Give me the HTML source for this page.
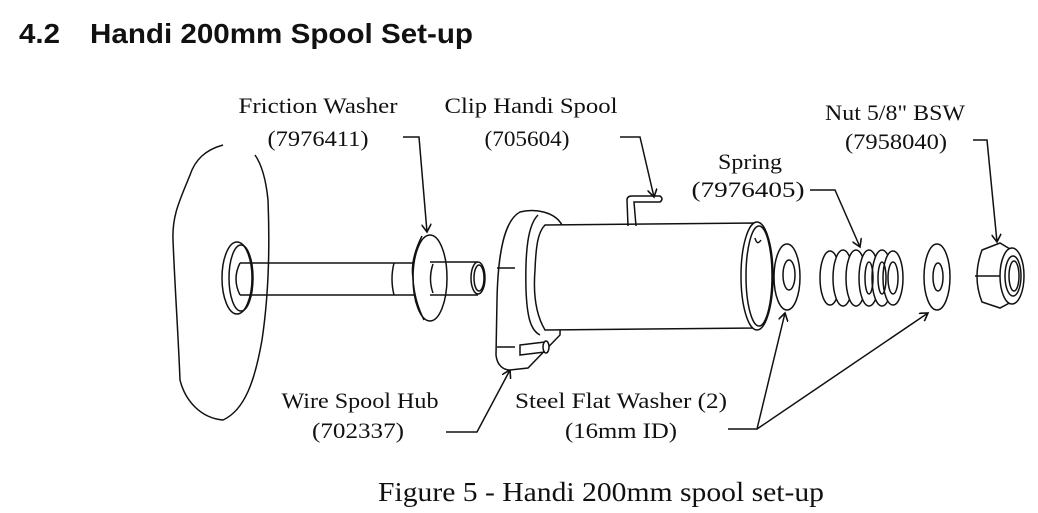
<!DOCTYPE html>
<html><head><style>
html,body{margin:0;padding:0;background:#fff;}
svg{display:block;}
.s{font-family:"Liberation Serif",serif;font-size:22px;fill:#111;}
</style></head><body>
<svg width="1038" height="513" viewBox="0 0 1038 513" xmlns="http://www.w3.org/2000/svg">
<defs><marker id="a" markerWidth="10" markerHeight="10" refX="8" refY="5" orient="auto" markerUnits="userSpaceOnUse"><path d="M0,0 L8,5 L0,10" fill="none" stroke="#111" stroke-width="1.6"/></marker></defs>
<text x="19" y="43" font-family="Liberation Sans,sans-serif" font-weight="bold" font-size="28" fill="#111" textLength="41" lengthAdjust="spacingAndGlyphs">4.2</text>
<text x="90" y="43" font-family="Liberation Sans,sans-serif" font-weight="bold" font-size="28" fill="#111" textLength="383" lengthAdjust="spacingAndGlyphs">Handi 200mm Spool Set-up</text>

<g class="s" text-anchor="middle">
<text x="318" y="113" textLength="159" lengthAdjust="spacingAndGlyphs">Friction Washer</text>
<text x="318" y="146" textLength="101" lengthAdjust="spacingAndGlyphs">(7976411)</text>
<text x="531" y="113" textLength="173" lengthAdjust="spacingAndGlyphs">Clip Handi Spool</text>
<text x="527" y="146" textLength="85" lengthAdjust="spacingAndGlyphs">(705604)</text>
<text x="895" y="120" textLength="140" lengthAdjust="spacingAndGlyphs">Nut 5/8" BSW</text>
<text x="896" y="149" textLength="102" lengthAdjust="spacingAndGlyphs">(7958040)</text>
<text x="750" y="169" textLength="64" lengthAdjust="spacingAndGlyphs">Spring</text>
<text x="748" y="197" textLength="113" lengthAdjust="spacingAndGlyphs">(7976405)</text>
<text x="360" y="408" textLength="157" lengthAdjust="spacingAndGlyphs">Wire Spool Hub</text>
<text x="358" y="438" textLength="92" lengthAdjust="spacingAndGlyphs">(702337)</text>
<text x="621" y="408" textLength="212" lengthAdjust="spacingAndGlyphs">Steel Flat Washer (2)</text>
<text x="621" y="438" textLength="112" lengthAdjust="spacingAndGlyphs">(16mm ID)</text>
</g>
<text x="601" y="501" text-anchor="middle" font-family="Liberation Serif,serif" font-size="27" fill="#111" textLength="446" lengthAdjust="spacingAndGlyphs">Figure 5 - Handi 200mm spool set-up</text>

<g fill="none" stroke="#111" stroke-width="1.5">
<path d="M403,137 L419,137 L427,232" marker-end="url(#a)"/>
<path d="M620,137 L640,137 L654,197" marker-end="url(#a)"/>
<path d="M810,190 L835,190 L860,247" marker-end="url(#a)"/>
<path d="M973,140 L987,140 L997,242" marker-end="url(#a)"/>
<path d="M728,429 L757,429 L785,313" marker-end="url(#a)"/>
<path d="M757,429 L928,313" marker-end="url(#a)"/>
<path d="M446,432 L477,432 L510,370" marker-end="url(#a)"/>

<path d="M223,145 C205,150 195,160 190,175 C180,200 172,215 173,240 C175,290 178,330 180,380 C185,400 200,418 223,420 C245,410 255,380 262,340 C268,300 270,250 268,200 C266,180 262,165 255,155"/>
<ellipse cx="237" cy="278" rx="15" ry="36" fill="#fff"/>
<ellipse cx="241" cy="278" rx="12" ry="33"/>
<path d="M240,263 L422,263 M240,295 L422,295 M394,263 Q390,279 394,295"/>
<path d="M240,263 Q232,279 240,295"/>
<ellipse cx="430" cy="278" rx="17" ry="43" fill="#fff"/>
<path d="M422,236 Q410,260 413,278 Q414,300 424,320"/>
<path d="M430,262 L478,262 M430,295 L478,295 M433,264 Q428,279 433,293"/>
<ellipse cx="478" cy="278" rx="7" ry="16" fill="#fff"/>
<ellipse cx="479" cy="278" rx="5" ry="13"/>
<path d="M520,212 C505,220 498,250 497,300 L496,355 C497,365 503,370 510,370 L528,368 L560,335 L562,225 C555,212 535,208 520,212 Z" fill="#fff"/>
<path d="M497,268 L515,268 M497,347 L515,347"/>
<path d="M538,215 C528,225 525,250 526,290 C527,315 530,330 540,335"/>
<path d="M545,225 L757,223 L757,328 L545,330 C536,315 533,295 535,270 C536,245 538,232 545,225 Z" fill="#fff"/>
<ellipse cx="757" cy="276" rx="16" ry="54" fill="#fff"/>
<ellipse cx="759" cy="276" rx="13" ry="50"/>
<path d="M755,238 q2,8 6,2"/>
<path d="M520,345 L545,342 L545,352 L520,355 Z" fill="#fff"/>
<ellipse cx="546" cy="347" rx="3" ry="6" fill="#fff"/>
<path d="M628,226 L627,200 Q627,196 632,196 L660,196 Q664,199 660,202 L634,202 L636,226"/>
<ellipse cx="787" cy="277" rx="13" ry="33" fill="#fff"/>
<ellipse cx="789" cy="275" rx="6" ry="15"/>
<ellipse cx="830" cy="278" rx="10" ry="27" fill="#fff"/>
<ellipse cx="843" cy="278" rx="10" ry="28" fill="#fff"/>
<ellipse cx="856" cy="278" rx="10" ry="28" fill="#fff"/>
<ellipse cx="869" cy="278" rx="10" ry="28" fill="#fff"/>
<ellipse cx="882" cy="278" rx="10" ry="28" fill="#fff"/>
<ellipse cx="893" cy="278" rx="10" ry="27" fill="#fff"/>
<ellipse cx="893" cy="278" rx="5" ry="16"/>
<ellipse cx="882" cy="278" rx="4" ry="16"/>
<ellipse cx="869" cy="278" rx="4" ry="16"/>
<ellipse cx="937" cy="277" rx="13" ry="33" fill="#fff"/>
<ellipse cx="938" cy="277" rx="5" ry="14"/>
<path d="M982,250 L1000,243 L1015,252 L1015,300 L1000,308 L982,302 Q972,277 982,250 Z" fill="#fff"/>
<path d="M975,276 L1012,276"/>
<ellipse cx="1012" cy="276" rx="12" ry="28" fill="#fff"/>
<ellipse cx="1013" cy="276" rx="8" ry="20"/>
<ellipse cx="1014" cy="276" rx="5" ry="15"/>
</g>
</svg>
</body></html>
